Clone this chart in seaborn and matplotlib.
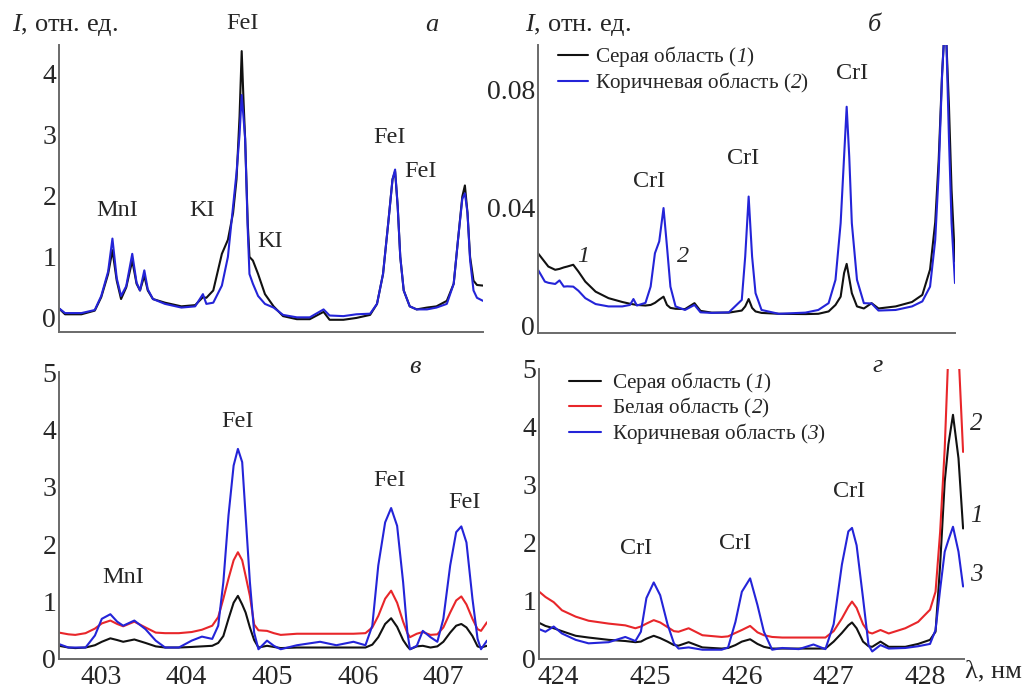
import numpy as np
import pandas as pd
import matplotlib
matplotlib.use("Agg")
import matplotlib.pyplot as plt
import seaborn as sns

# ---- panel a: spectrum 402.5-407.4 nm, two regions ----
a_wl = [402.45, 402.53, 402.72, 402.875, 402.95, 403.03, 403.08, 403.13, 403.18, 403.24,
        403.31, 403.36, 403.40, 403.45, 403.49, 403.55, 403.69, 403.88, 404.04, 404.13,
        404.17, 404.25, 404.35, 404.42, 404.48, 404.52, 404.555, 404.58, 404.60, 404.62,
        404.65, 404.67, 404.71, 404.77, 404.85, 404.95, 405.06, 405.22, 405.37, 405.53,
        405.60, 405.76, 405.91, 406.07, 406.15, 406.22, 406.28, 406.33, 406.36, 406.39,
        406.42, 406.46, 406.53, 406.61, 406.73, 406.84, 406.96, 407.04, 407.09, 407.14,
        407.17, 407.20, 407.23, 407.27, 407.31, 407.38]
a_gray = [0.17, 0.06, 0.06, 0.12, 0.34, 0.72, 1.11, 0.61, 0.31, 0.50,
          0.94, 0.56, 0.45, 0.69, 0.45, 0.31, 0.25, 0.19, 0.21, 0.34,
          0.33, 0.45, 1.05, 1.28, 1.72, 2.27, 3.30, 4.37, 3.60, 2.93,
          1.55, 1.00, 0.94, 0.72, 0.39, 0.19, 0.03, -0.02, -0.02, 0.10,
          -0.03, -0.03, 0.00, 0.05, 0.23, 0.72, 1.55, 2.27, 2.40, 1.83,
          1.00, 0.45, 0.19, 0.14, 0.17, 0.19, 0.28, 0.56, 1.28, 1.99,
          2.17, 1.72, 1.00, 0.61, 0.54, 0.53]
a_brown = [0.17, 0.08, 0.08, 0.13, 0.36, 0.76, 1.30, 0.65, 0.36, 0.52,
           1.05, 0.58, 0.45, 0.78, 0.47, 0.31, 0.23, 0.17, 0.19, 0.39,
           0.23, 0.25, 0.53, 1.00, 1.83, 2.38, 3.00, 3.65, 3.30, 2.93,
           1.45, 0.72, 0.56, 0.36, 0.23, 0.17, 0.05, 0.01, 0.01, 0.14,
           0.04, 0.03, 0.06, 0.07, 0.23, 0.72, 1.55, 2.27, 2.43, 1.83,
           1.00, 0.45, 0.19, 0.14, 0.14, 0.17, 0.23, 0.56, 1.28, 1.95,
           2.04, 1.72, 0.95, 0.45, 0.33, 0.28]

# ---- panel b: spectrum 423.6-428.4 nm, two regions ----
b_wl = [423.57, 423.65, 423.69, 423.77, 423.82, 423.87, 423.91, 423.98, 424.04, 424.12,
        424.24, 424.39, 424.55, 424.64, 424.68, 424.72, 424.82, 424.88, 424.93, 424.98,
        425.03, 425.07, 425.11, 425.17, 425.28, 425.39, 425.46, 425.59, 425.79, 425.94,
        425.98, 426.02, 426.06, 426.10, 426.17, 426.37, 426.68, 426.83, 426.95, 427.03,
        427.09, 427.13, 427.16, 427.19, 427.22, 427.28, 427.36, 427.45, 427.53, 427.73,
        427.92, 428.04, 428.13, 428.19, 428.23, 428.27, 428.29, 428.32, 428.35, 428.38,
        428.42]
b_gray = [0.0245, 0.0215, 0.0200, 0.0189, 0.0192, 0.0197, 0.0200, 0.0206, 0.0183, 0.0149,
          0.0115, 0.0093, 0.0080, 0.0074, 0.0072, 0.0070, 0.0068, 0.0070, 0.0077, 0.0088,
          0.0098, 0.0070, 0.0060, 0.0057, 0.0056, 0.0076, 0.0050, 0.0044, 0.0044, 0.0051,
          0.0065, 0.0090, 0.0060, 0.0048, 0.0043, 0.0040, 0.0039, 0.0040, 0.0048, 0.0070,
          0.0098, 0.0178, 0.0209, 0.0160, 0.0110, 0.0065, 0.0058, 0.0076, 0.0058, 0.0065,
          0.0080, 0.0104, 0.0190, 0.0350, 0.0560, 0.0854, 0.0960, 0.0960, 0.0741, 0.0460,
          0.0217]
b_brown = [0.0189, 0.0149, 0.0145, 0.0141, 0.0153, 0.0132, 0.0133, 0.0132, 0.0118, 0.0093,
           0.0073, 0.0065, 0.0065, 0.0070, 0.0090, 0.0068, 0.0077, 0.0132, 0.0245, 0.0285,
           0.0398, 0.0268, 0.0132, 0.0065, 0.0053, 0.0070, 0.0045, 0.0043, 0.0045, 0.0087,
           0.0234, 0.0437, 0.0234, 0.0110, 0.0053, 0.0040, 0.0044, 0.0053, 0.0076, 0.0155,
           0.0347, 0.0572, 0.0741, 0.0572, 0.0347, 0.0155, 0.0076, 0.0075, 0.0051, 0.0053,
           0.0065, 0.0082, 0.0132, 0.0290, 0.0516, 0.0850, 0.0960, 0.0960, 0.0630, 0.0347,
           0.0144]

# ---- panel v: 402.5-407.5 nm, three regions ----
v_wl = [402.51, 402.62, 402.70, 402.82, 402.93, 403.01, 403.11, 403.19, 403.26, 403.39,
        403.52, 403.64, 403.75, 403.91, 404.06, 404.18, 404.30, 404.37, 404.43, 404.49,
        404.55, 404.60, 404.65, 404.69, 404.74, 404.79, 404.84, 404.94, 405.02, 405.10,
        405.29, 405.56, 405.75, 405.95, 406.09, 406.17, 406.24, 406.32, 406.39, 406.46,
        406.53, 406.58, 406.61, 406.69, 406.76, 406.85, 406.93, 407.00, 407.08, 407.15,
        407.21, 407.27, 407.34, 407.40, 407.44, 407.51]
v_gray = [0.23, 0.20, 0.19, 0.20, 0.24, 0.30, 0.36, 0.33, 0.30, 0.34,
          0.28, 0.22, 0.20, 0.20, 0.21, 0.22, 0.23, 0.28, 0.40, 0.70,
          0.98, 1.10, 0.95, 0.81, 0.55, 0.33, 0.20, 0.23, 0.21, 0.19,
          0.20, 0.20, 0.20, 0.20, 0.20, 0.25, 0.38, 0.61, 0.71, 0.56,
          0.33, 0.22, 0.17, 0.22, 0.23, 0.20, 0.22, 0.30, 0.46, 0.58,
          0.61, 0.55, 0.40, 0.22, 0.20, 0.23]
v_white = [0.46, 0.43, 0.42, 0.45, 0.53, 0.62, 0.67, 0.61, 0.57, 0.65,
           0.55, 0.46, 0.45, 0.45, 0.47, 0.51, 0.58, 0.73, 1.05, 1.40,
           1.72, 1.86, 1.72, 1.45, 1.10, 0.60, 0.50, 0.49, 0.45, 0.42,
           0.44, 0.44, 0.44, 0.44, 0.45, 0.55, 0.75, 1.05, 1.19, 0.98,
           0.65, 0.45, 0.38, 0.44, 0.47, 0.42, 0.43, 0.55, 0.81, 1.02,
           1.09, 0.95, 0.70, 0.52, 0.49, 0.64]
v_brown = [0.26, 0.20, 0.20, 0.20, 0.41, 0.70, 0.78, 0.65, 0.58, 0.67,
           0.52, 0.32, 0.20, 0.20, 0.32, 0.39, 0.35, 0.58, 1.34, 2.50,
           3.37, 3.66, 3.43, 2.50, 1.34, 0.46, 0.17, 0.32, 0.23, 0.17,
           0.24, 0.30, 0.24, 0.30, 0.24, 0.58, 1.63, 2.38, 2.63, 2.32,
           1.34, 0.46, 0.17, 0.23, 0.49, 0.38, 0.30, 0.70, 1.63, 2.21,
           2.31, 2.03, 1.05, 0.35, 0.17, 0.32]

# ---- panel g: 423.8-428.4 nm, three regions ----
g_wl = [423.77, 423.86, 423.95, 424.04, 424.19, 424.33, 424.55, 424.73, 424.84, 424.90,
        424.96, 425.04, 425.11, 425.19, 425.26, 425.31, 425.42, 425.57, 425.78, 425.85,
        425.93, 426.00, 426.09, 426.17, 426.24, 426.33, 426.44, 426.62, 426.78, 426.91,
        427.00, 427.09, 427.16, 427.20, 427.25, 427.32, 427.38, 427.42, 427.51, 427.60,
        427.78, 427.92, 428.05, 428.11, 428.16, 428.21, 428.25, 428.30, 428.36, 428.41]
g_gray = [0.64, 0.57, 0.53, 0.48, 0.40, 0.37, 0.33, 0.31, 0.29, 0.30,
          0.35, 0.40, 0.36, 0.30, 0.24, 0.23, 0.29, 0.20, 0.18, 0.19,
          0.24, 0.30, 0.34, 0.26, 0.21, 0.18, 0.18, 0.18, 0.18, 0.18,
          0.30, 0.45, 0.58, 0.63, 0.53, 0.30, 0.22, 0.21, 0.30, 0.21,
          0.21, 0.26, 0.33, 0.47, 1.62, 3.06, 3.70, 4.21, 3.46, 2.25]
g_white = [1.19, 1.07, 0.98, 0.84, 0.73, 0.66, 0.61, 0.58, 0.53, 0.56,
           0.61, 0.67, 0.63, 0.55, 0.48, 0.47, 0.53, 0.41, 0.38, 0.39,
           0.45, 0.50, 0.57, 0.46, 0.41, 0.38, 0.37, 0.37, 0.37, 0.37,
           0.48, 0.70, 0.90, 0.99, 0.88, 0.60, 0.46, 0.44, 0.50, 0.44,
           0.53, 0.64, 0.85, 1.16, 2.19, 3.63, 5.30, 7.00, 5.30, 3.57]
g_brown = [0.53, 0.47, 0.56, 0.44, 0.33, 0.27, 0.29, 0.38, 0.31, 0.47,
           1.05, 1.32, 1.10, 0.60, 0.27, 0.18, 0.20, 0.16, 0.16, 0.20,
           0.64, 1.16, 1.39, 0.93, 0.47, 0.16, 0.19, 0.17, 0.25, 0.17,
           0.60, 1.63, 2.20, 2.26, 1.96, 1.05, 0.24, 0.13, 0.24, 0.18,
           0.19, 0.22, 0.26, 0.50, 1.20, 1.85, 2.05, 2.28, 1.85, 1.25]

# digits inside $...$ are drawn with the (italic) math rm font below
GRAY_LABEL = "Серая область ($1$)"
WHITE_LABEL = "Белая область ($2$)"

BLACK = "#111111"
RED = "#e8262a"
BLUE = "#2424d8"
SPINE = "#6a6a6a"

W, H = 1025, 690


def fig_box(left, top, right, bottom):
    """Pixel box of the reference -> figure fraction rect."""
    return [left / W, 1 - bottom / H, (right - left) / W, (bottom - top) / H]


def style_axes(ax):
    sns.despine(ax=ax)
    for side in ("left", "bottom"):
        ax.spines[side].set_color(SPINE)
        ax.spines[side].set_linewidth(1.4)
    ax.tick_params(direction="in", length=5, width=1.1, color=SPINE,
                   labelsize=20, pad=2)
    ax.set_xlabel("")
    ax.set_ylabel("")


def draw(ax, wl, series):
    """Draw each (values, colour, label) series with seaborn."""
    for vals, color, label in series:
        sns.lineplot(x=wl, y=vals, ax=ax, color=color, linewidth=1.5,
                     label=label, legend=False)


def peak_label(ax, x, y, text, size=17.5, italic=False):
    ax.text(x, y, text, fontsize=size, ha="center", va="center",
            fontstyle="italic" if italic else "normal", clip_on=False)


def add_legend(ax, fig, left, top, handlelength=1.4, handletextpad=0.35):
    ax.legend(loc="upper left", bbox_to_anchor=(left / W, 1 - top / H),
              bbox_transform=fig.transFigure, frameon=False, fontsize=15.3,
              handlelength=handlelength, handletextpad=handletextpad,
              labelspacing=0.05, borderpad=0.0, borderaxespad=0.0)


def main():
    sns.set_style("white")
    plt.rcParams["font.family"] = ["Liberation Serif", "DejaVu Serif"]
    plt.rcParams["mathtext.fontset"] = "custom"
    plt.rcParams["mathtext.rm"] = "Liberation Serif:italic"
    plt.rcParams["mathtext.it"] = "Liberation Serif:italic"

    fig = plt.figure(figsize=(W / 100, H / 100), dpi=100)
    ax_a = fig.add_axes(fig_box(59, 45, 483, 332))
    ax_b = fig.add_axes(fig_box(538, 45, 955, 333))
    ax_v = fig.add_axes(fig_box(59, 372, 487, 659))
    ax_g = fig.add_axes(fig_box(539, 369, 964, 659))

    # a
    draw(ax_a, a_wl, [(a_gray, BLACK, None), (a_brown, BLUE, None)])
    ax_a.set_xlim(402.46, 407.38)
    ax_a.set_ylim(-0.23, 4.47)
    ax_a.set_yticks([0, 1, 2, 3, 4])
    ax_a.set_xticks([])
    style_axes(ax_a)
    peak_label(ax_a, 403.14, 1.76, "MnI")
    peak_label(ax_a, 404.125, 1.76, "KI")
    peak_label(ax_a, 404.91, 1.26, "KI")
    peak_label(ax_a, 406.29, 2.96, "FeI")
    peak_label(ax_a, 406.66, 2.40, "FeI")
    peak_label(ax_a, 404.59, 4.83, "FeI")

    # b
    draw(ax_b, b_wl, [(b_gray, BLACK, GRAY_LABEL),
                      (b_brown, BLUE, "Коричневая область ($2$)")])
    ax_b.set_xlim(423.57, 428.42)
    ax_b.set_ylim(-0.0025, 0.095)
    ax_b.set_yticks([0, 0.04, 0.08])
    ax_b.set_yticklabels(["0", "0.04", "0.08"])
    ax_b.set_yticks([0.02, 0.06], minor=True)
    ax_b.set_xticks([])
    style_axes(ax_b)
    ax_b.tick_params(which="minor", direction="in", length=5, width=1.1, color=SPINE)
    peak_label(ax_b, 424.86, 0.0488, "CrI")
    peak_label(ax_b, 425.95, 0.0567, "CrI")
    peak_label(ax_b, 427.22, 0.0852, "CrI")
    peak_label(ax_b, 424.10, 0.0234, "1", italic=True)
    peak_label(ax_b, 425.26, 0.0234, "2", italic=True)
    add_legend(ax_b, fig, 558, 44)

    # v
    draw(ax_v, v_wl, [(v_white, RED, None), (v_gray, BLACK, None), (v_brown, BLUE, None)])
    ax_v.set_xlim(402.51, 407.51)
    ax_v.set_ylim(0, 5)
    ax_v.set_xticks([403, 404, 405, 406, 407])
    ax_v.set_yticks([0, 1, 2, 3, 4, 5])
    style_axes(ax_v)
    ax_v.tick_params(axis="x", pad=4)
    peak_label(ax_v, 403.26, 1.42, "MnI")
    peak_label(ax_v, 404.60, 4.13, "FeI")
    peak_label(ax_v, 406.37, 3.11, "FeI")
    peak_label(ax_v, 407.25, 2.73, "FeI")

    # g
    draw(ax_g, g_wl, [(g_gray, BLACK, GRAY_LABEL), (g_white, RED, WHITE_LABEL),
                      (g_brown, BLUE, "Коричневая область ($3$)")])
    ax_g.set_xlim(423.79, 428.42)
    ax_g.set_ylim(0, 5)
    ax_g.set_xticks([424, 425, 426, 427, 428])
    ax_g.set_yticks([0, 1, 2, 3, 4, 5])
    style_axes(ax_g)
    ax_g.tick_params(axis="x", pad=4)
    peak_label(ax_g, 424.85, 1.90, "CrI")
    peak_label(ax_g, 425.93, 1.99, "CrI")
    peak_label(ax_g, 427.17, 2.88, "CrI")
    peak_label(ax_g, 428.55, 4.06, "2", size=18, italic=True)
    peak_label(ax_g, 428.55, 2.47, "1", size=18, italic=True)
    peak_label(ax_g, 428.55, 1.45, "3", size=18, italic=True)
    add_legend(ax_g, fig, 569, 370, handlelength=1.5, handletextpad=0.5)

    # axis captions and panel letters
    ylab = "$I$, отн. ед."
    fig.text(12 / W, 1 - 25 / H, ylab, fontsize=19, ha="left", va="center")
    fig.text(525 / W, 1 - 25 / H, ylab, fontsize=19, ha="left", va="center")
    fig.text(1022 / W, 1 - 671 / H, "λ, нм", fontsize=19, ha="right", va="center")
    for x, y, letter in [(432, 25, "а"), (874, 25, "б"), (415, 367, "в"), (878, 366, "г")]:
        fig.text(x / W, 1 - y / H, letter, fontsize=19, fontstyle="italic",
                 ha="center", va="center")

    fig.savefig("out.png", dpi=100)


if __name__ == "__main__":
    main()
